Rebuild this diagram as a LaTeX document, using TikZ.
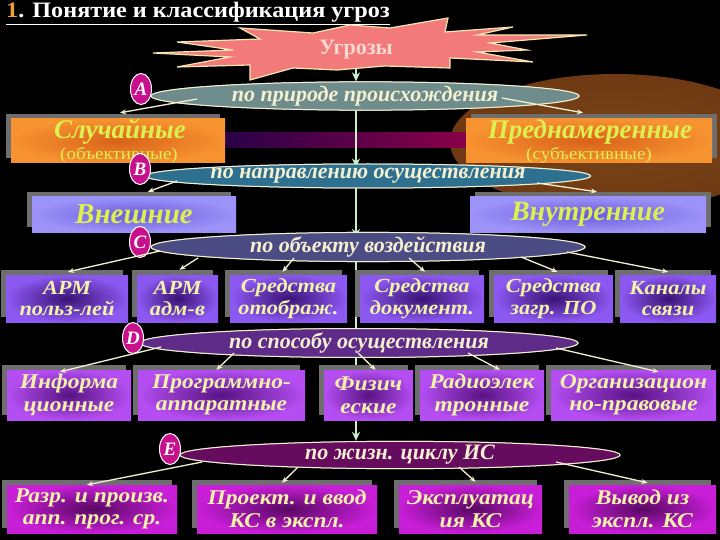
\documentclass[tikz,border=0pt]{standalone}
\usepackage{fontspec}
\setmainfont{Liberation Serif}
\newfontfamily\rowfont[FakeStretch=1.12]{Liberation Serif}
\usetikzlibrary{shapes.geometric,arrows.meta,shadows,calc}
\definecolor{starfill}{HTML}{F27A7A}
\definecolor{starline}{HTML}{F5E6B0}
\definecolor{startext}{HTML}{F8D8D0}
\definecolor{vlinecol}{HTML}{C8F0C8}
\definecolor{arrowcol}{HTML}{F4F0D0}
\definecolor{ellborder}{HTML}{F2EED0}
\definecolor{ellAc}{HTML}{6E8C8C}
\definecolor{ellBc}{HTML}{2E7090}
\definecolor{ellCc}{HTML}{4C4C84}
\definecolor{ellDc}{HTML}{5E2C88}
\definecolor{ellEc}{HTML}{660C5E}
\definecolor{lettc}{HTML}{C8108C}
\definecolor{orao}{HTML}{F79230}
\definecolor{orai}{HTML}{D86218}
\definecolor{lavo}{HTML}{9C92F8}
\definecolor{lavi}{HTML}{6A5CDC}
\definecolor{rco}{HTML}{8C58F2}
\definecolor{rci}{HTML}{3A1274}
\definecolor{rdo}{HTML}{B44EF2}
\definecolor{rdi}{HTML}{581282}
\definecolor{reo}{HTML}{C81ED8}
\definecolor{rei}{HTML}{580862}
\definecolor{limetext}{HTML}{DCF050}
\definecolor{rowtext}{HTML}{F2F2A8}
\definecolor{shadowgray}{HTML}{6E6E6E}
\definecolor{titleorange}{HTML}{F0A030}
\definecolor{glowa}{HTML}{7A4418}
\definecolor{glowb}{HTML}{6A3410}
\definecolor{glowc}{HTML}{3A1806}
\definecolor{bara}{HTML}{2A0048}
\definecolor{barb}{HTML}{4A0068}
\definecolor{barc}{HTML}{8A0048}
\pgfdeclareradialshading{glowshade}{\pgfpoint{0bp}{0bp}}{color(0bp)=(glowa); color(36bp)=(glowb); color(45bp)=(glowc); color(50bp)=(black)}
\begin{document}
\begin{tikzpicture}[x=1pt,y=-1pt,
  boxbase/.style={inner sep=0pt, align=center, font=\bfseries\itshape},
  shl/.style={general shadow={fill=shadowgray, shadow xshift=-5pt, shadow yshift=5pt}},
  shr/.style={general shadow={fill=shadowgray, shadow xshift=5pt, shadow yshift=5pt}},
  orabox/.style={boxbase, shading=radial, inner color=orai, outer color=orao, text=limetext},
  lavbox/.style={boxbase, shading=radial, inner color=lavi, outer color=lavo, text=limetext},
  bigtxt/.style={anchor=base, inner sep=0pt, text=limetext, font=\bfseries\itshape\fontsize{27}{27}\selectfont},
  smalltxt/.style={anchor=base, inner sep=0pt, text=limetext, font=\rowfont\fontsize{17}{17}\selectfont},
  rcbox/.style={boxbase, shl, shading=radial, inner color=rci, outer color=rco, text=rowtext, minimum height=47pt, font=\rowfont\bfseries\itshape\fontsize{20}{21.5}\selectfont},
  rdbox/.style={boxbase, shl, shading=radial, inner color=rdi, outer color=rdo, text=rowtext, minimum height=50pt, font=\rowfont\bfseries\itshape\fontsize{21}{22.5}\selectfont},
  rebox/.style={boxbase, shl, shading=radial, inner color=rei, outer color=reo, text=rowtext, minimum height=48pt, font=\rowfont\bfseries\itshape\fontsize{21}{22.5}\selectfont},
  ell/.style={ellipse, draw=ellborder, line width=1pt, minimum height=24pt, inner sep=0pt, text=arrowcol, font=\bfseries\itshape\fontsize{22}{22}\selectfont},
  lett/.style={ellipse, draw=white, line width=1pt, fill=lettc, minimum width=21pt, minimum height=31pt, inner sep=0pt, text=white, font=\bfseries\itshape\fontsize{19}{19}\selectfont},
  arr/.style={draw=arrowcol, line width=1.3pt, -{Stealth[length=6pt,width=5pt]}},
  vline/.style={draw=vlinecol, line width=2pt, -{Stealth[length=9pt,width=8pt]}}
]
\fill[black] (0,0) rectangle (720,540);
\useasboundingbox (0,0) rectangle (720,540);
% decorations
\shade[shading=glowshade] (615,142) ellipse [x radius=165, y radius=68];
\shade[left color=bara, middle color=barb, right color=barc] (225,133) rectangle (468,148);
% title
\node[anchor=base west, text=white, inner sep=0pt, font=\bfseries\fontsize{22}{22}\selectfont] (title) at (6,18) {\scalebox{1.1}[1]{\underline{\textcolor{titleorange}{1}. Понятие и классификация угроз}}};
% starburst
\filldraw[fill=starfill, draw=starline, line width=1.2pt]
 (153,53) -- (233,50) -- (177,42) -- (260,39) -- (240,28) -- (313,33) -- (350,25) -- (390,28)
 -- (448,18) -- (445,32) -- (513,27) -- (477,35) -- (587,35) -- (490,43) -- (527,50) -- (477,52)
 -- (533,62) -- (450,58) -- (450,68) -- (385,66) -- (337,70) -- (293,68) -- (250,80) -- (250,65)
 -- (177,67) -- (230,57) -- cycle;
\node[minimum width=80pt, minimum height=36pt, inner sep=0pt, text=startext, font=\bfseries\fontsize{22}{22}\selectfont] (star) at (356,50) {Угрозы};
% ellipse positions
\path (365,96) coordinate (pA) (368,176) coordinate (pB) (368,247) coordinate (pC) (359,343) coordinate (pD) (400,455) coordinate (pE);
\path (pA) node[ell, fill=ellAc, minimum width=428pt] (ellA) {по природе происхождения};
\path (pB) node[ell, fill=ellBc, minimum width=434pt] (ellB) {по направлению осуществления};
\path (pC) node[ell, fill=ellCc, minimum width=434pt] (ellC) {по объекту воздействия};
\path (pD) node[ell, fill=ellDc, minimum width=438pt] (ellD) {по способу осуществления};
\path (pE) node[ell, fill=ellEc, minimum width=440pt] (ellE) {по жизн. циклу ИС};
% vertical line (behind boxes)
\coordinate (vx) at (356,0);
\draw[vline] (star.south) -- (vx |- ellA.north);
\draw[vline] (vx |- ellA.south) -- ([yshift=-4pt]vx |- ellB.north);
\draw[vline] (vx |- ellB.south) -- ([yshift=-6pt]vx |- ellC.north);
\draw[vline] (vx |- ellC.south) -- ([yshift=-10pt]vx |- ellD.north);
\draw[vline] (vx |- ellD.south) -- (vx |- ellE.north);
% boxes
\node[orabox, shl, minimum width=214pt, minimum height=44pt] (sluch) at (118,141) {};
\node[bigtxt] (sluchT) at (120,139) {Случайные};
\node[smalltxt] (sluchS) at (119,160) {(объективные)};
\node[orabox, shr, minimum width=246pt, minimum height=44pt] (pred) at (589,141) {};
\node[bigtxt] (predT) at (590,139) {Преднамеренные};
\node[smalltxt] (predS) at (589,160) {(субъективные)};
\node[lavbox, shl, minimum width=204pt, minimum height=35pt, font=\bfseries\itshape\fontsize{29}{29}\selectfont] (vnesh) at (134,214.5) {Внешние};
\node[lavbox, shr, minimum width=236pt, minimum height=35pt, font=\bfseries\itshape\fontsize{28}{28}\selectfont] (vnutr) at (588,214.5) {Внутренние};
% row C
\node[rcbox, minimum width=122pt] (c1) at (67,298.5) {АРМ\\польз-лей};
\node[rcbox, minimum width=81pt] (c2) at (177.5,298.5) {АРМ\\адм-в};
\node[rcbox, minimum width=117pt] (c3) at (288.5,298.5) {Средства\\отображ.};
\node[rcbox, minimum width=124pt] (c4) at (422,298.5) {Средства\\документ.};
\node[rcbox, minimum width=119pt] (c5) at (553.5,298.5) {Средства\\загр. ПО};
\node[rcbox, minimum width=96pt] (c6) at (668,298.5) {Каналы\\связи};
% row D
\node[rdbox, minimum width=124pt] (d1) at (69,395) {Информа\\ционные};
\node[rdbox, minimum width=167pt] (d2) at (221.5,395) {Программно-\\аппаратные};
\node[rdbox, minimum width=89pt] (d3) at (368.5,395) {Физич\\еские};
\node[rdbox, minimum width=124pt] (d4) at (482,395) {Радиоэлек\\тронные};
\node[rdbox, minimum width=165pt] (d5) at (633.5,395) {Организацион\\но-правовые};
% row E
\node[rebox, minimum width=170pt] (e1) at (92,509) {Разр. и произв.\\апп. прог. ср.};
\node[rebox, minimum width=180pt] (e2) at (287,509) {Проект. и ввод\\КС в экспл.};
\node[rebox, minimum width=143pt] (e3) at (470.5,509) {Эксплуатац\\ия КС};
\node[rebox, minimum width=147pt] (e4) at (642.5,509) {Вывод из\\экспл. КС};
% ellipses on top of the boxes
\path (pA) node[ell, fill=ellAc, minimum width=428pt] {по природе происхождения};
\path (pB) node[ell, fill=ellBc, minimum width=434pt] {по направлению осуществления};
\path (pC) node[ell, fill=ellCc, minimum width=434pt] {по объекту воздействия};
\path (pD) node[ell, fill=ellDc, minimum width=438pt] {по способу осуществления};
\path (pE) node[ell, fill=ellEc, minimum width=440pt] {по жизн. циклу ИС};
% letters
\node[lett] (lA) at (141,89) {A};
\node[lett] (lB) at (140,169) {B};
\node[lett] (lC) at (140,242) {C};
\node[lett] (lD) at (133,338) {D};
\node[lett] (lE) at (170,449) {E};
% arrows
\draw[arr] ($(ellA.center)+(-168,3)$) -- ($(sluch.north)+(2,-6)$);
\draw[arr] ($(ellA.center)+(137,2)$) -- ($(pred.north)+(-6,-6)$);
\draw[arr] ($(ellB.center)+(-191,5)$) -- ($(vnesh.north)+(14,-5)$);
\draw[arr] ($(ellB.center)+(169,7)$) -- ($(vnutr.north)+(9,-5)$);
\draw[arr] ($(ellC.center)+(-208,4)$) -- ($(c1.north)+(1,-3)$);
\draw[arr] ($(ellC.center)+(-170,11)$) -- ($(c2.north)+(2,-5)$);
\draw[arr] ($(ellC.center)+(-74,11)$) -- ($(c3.north)+(-6,-3)$);
\draw[arr] ($(ellC.center)+(41,11)$) -- ($(c4.north)+(3,-3)$);
\draw[arr] ($(ellC.center)+(153,10)$) -- ($(c5.north)+(4,-3)$);
\draw[arr] ($(ellC.center)+(199,5)$) -- ($(c6.north)+(0,-3)$);
\draw[arr] ($(ellD.center)+(-198,4)$) -- ($(d1.north)+(-9,2)$);
\draw[arr] ($(ellD.center)+(-125,10)$) -- ($(d2.north)+(-5,0)$);
\draw[arr] ($(ellD.center)+(-1,10)$) -- ($(d3.north)+(7,0)$);
\draw[arr] ($(ellD.center)+(109,10)$) -- ($(d4.north)+(18,0)$);
\draw[arr] ($(ellD.center)+(197,5)$) -- ($(d5.north)+(25,2)$);
\draw[arr] ($(ellE.center)+(-198,7)$) -- ($(e1.north)+(-5,0)$);
\draw[arr] ($(ellE.center)+(-102,12)$) -- ($(e2.north)+(-5,-2)$);
\draw[arr] ($(ellE.center)+(59,12)$) -- ($(e3.north)+(5,-3)$);
\draw[arr] ($(ellE.center)+(156,7)$) -- ($(e4.north)+(5,-2)$);
\end{tikzpicture}
\end{document}
